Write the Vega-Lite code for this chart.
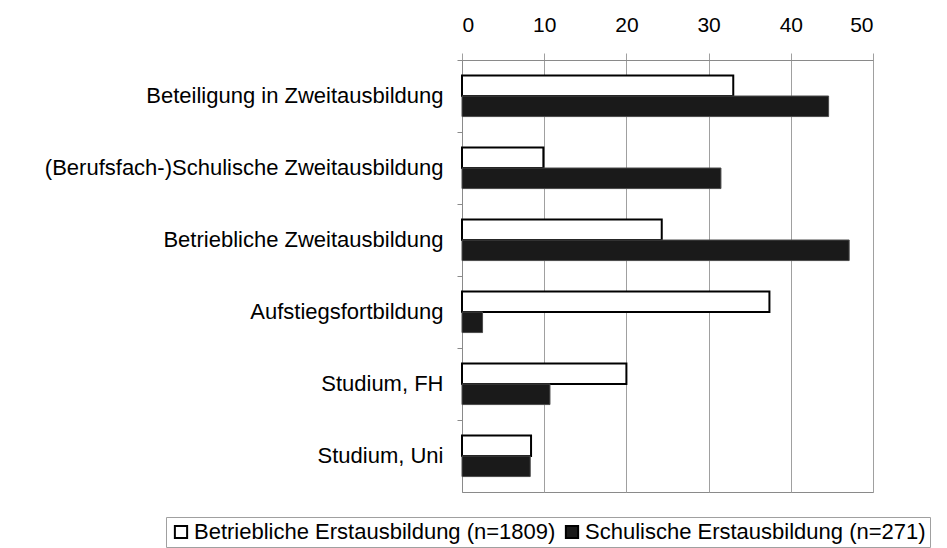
{
  "$schema": "https://vega.github.io/schema/vega-lite/v6.json",
  "width": 411,
  "height": 432,
  "autosize": {"type": "none"},
  "padding": {"left": 462, "top": 60, "right": 74, "bottom": 56},
  "background": "white",
  "config": {
    "font": "Liberation Sans",
    "view": {"stroke": "#8a8a8a", "strokeWidth": 1}
  },
  "data": {
    "values": [
      {"kategorie": "Beteiligung in Zweitausbildung", "gruppe": "Betriebliche Erstausbildung (n=1809)", "wert": 33.0},
      {"kategorie": "Beteiligung in Zweitausbildung", "gruppe": "Schulische Erstausbildung (n=271)", "wert": 44.6},
      {"kategorie": "(Berufsfach-)Schulische Zweitausbildung", "gruppe": "Betriebliche Erstausbildung (n=1809)", "wert": 9.9},
      {"kategorie": "(Berufsfach-)Schulische Zweitausbildung", "gruppe": "Schulische Erstausbildung (n=271)", "wert": 31.5},
      {"kategorie": "Betriebliche Zweitausbildung", "gruppe": "Betriebliche Erstausbildung (n=1809)", "wert": 24.3},
      {"kategorie": "Betriebliche Zweitausbildung", "gruppe": "Schulische Erstausbildung (n=271)", "wert": 47.1},
      {"kategorie": "Aufstiegsfortbildung", "gruppe": "Betriebliche Erstausbildung (n=1809)", "wert": 37.4},
      {"kategorie": "Aufstiegsfortbildung", "gruppe": "Schulische Erstausbildung (n=271)", "wert": 2.5},
      {"kategorie": "Studium, FH", "gruppe": "Betriebliche Erstausbildung (n=1809)", "wert": 20.0},
      {"kategorie": "Studium, FH", "gruppe": "Schulische Erstausbildung (n=271)", "wert": 10.7},
      {"kategorie": "Studium, Uni", "gruppe": "Betriebliche Erstausbildung (n=1809)", "wert": 8.4},
      {"kategorie": "Studium, Uni", "gruppe": "Schulische Erstausbildung (n=271)", "wert": 8.3}
    ]
  },
  "mark": {"type": "bar"},
  "encoding": {
    "y": {
      "field": "kategorie",
      "type": "nominal",
      "sort": null,
      "scale": {"paddingInner": 0, "paddingOuter": 0},
      "axis": {
        "title": null,
        "bandPosition": 0,
        "ticks": true,
        "tickSize": 5,
        "tickWidth": 1,
        "tickColor": "#8a8a8a",
        "domainColor": "#8a8a8a",
        "labelPadding": 14,
        "labelFontSize": 22,
        "labelColor": "#000000",
        "labelFont": "Liberation Sans",
        "labelLimit": 500,
        "grid": false
      }
    },
    "yOffset": {
      "field": "gruppe",
      "type": "nominal",
      "sort": ["Betriebliche Erstausbildung (n=1809)", "Schulische Erstausbildung (n=271)"],
      "scale": {"paddingInner": 0, "paddingOuter": 0.75}
    },
    "x": {
      "field": "wert",
      "type": "quantitative",
      "scale": {"domain": [0, 50], "nice": false},
      "axis": {
        "orient": "top",
        "title": null,
        "values": [0, 10, 20, 30, 40, 50],
        "grid": true,
        "gridColor": "#a0a0a0",
        "gridWidth": 1,
        "tickSize": 7,
        "tickColor": "#a0a0a0",
        "domainColor": "#8a8a8a",
        "labelPadding": 18,
        "labelFontSize": 21,
        "labelColor": "#000000",
        "labelFont": "Liberation Sans"
      }
    },
    "fill": {
      "field": "gruppe",
      "type": "nominal",
      "sort": ["Betriebliche Erstausbildung (n=1809)", "Schulische Erstausbildung (n=271)"],
      "scale": {"range": ["#ffffff", "#1a1a1a"]},
      "legend": {
        "title": null,
        "orient": "none",
        "direction": "horizontal",
        "legendX": -296,
        "legendY": 457,
        "symbolType": "square",
        "symbolSize": 150,
        "symbolStrokeColor": "#000000",
        "symbolStrokeWidth": 2,
        "symbolOpacity": 1,
        "labelFontSize": 22,
        "labelFont": "Liberation Sans",
        "labelColor": "#000000",
        "labelLimit": 500,
        "labelOffset": 2,
        "columnPadding": 5,
        "strokeColor": "#a0a0a0",
        "padding": 4
      }
    },
    "stroke": {
      "field": "gruppe",
      "type": "nominal",
      "sort": ["Betriebliche Erstausbildung (n=1809)", "Schulische Erstausbildung (n=271)"],
      "scale": {"range": ["#000000", "#4a4a4a"]},
      "legend": null
    },
    "strokeWidth": {
      "field": "gruppe",
      "type": "nominal",
      "sort": ["Betriebliche Erstausbildung (n=1809)", "Schulische Erstausbildung (n=271)"],
      "scale": {"range": [2, 1]},
      "legend": null
    }
  }
}
